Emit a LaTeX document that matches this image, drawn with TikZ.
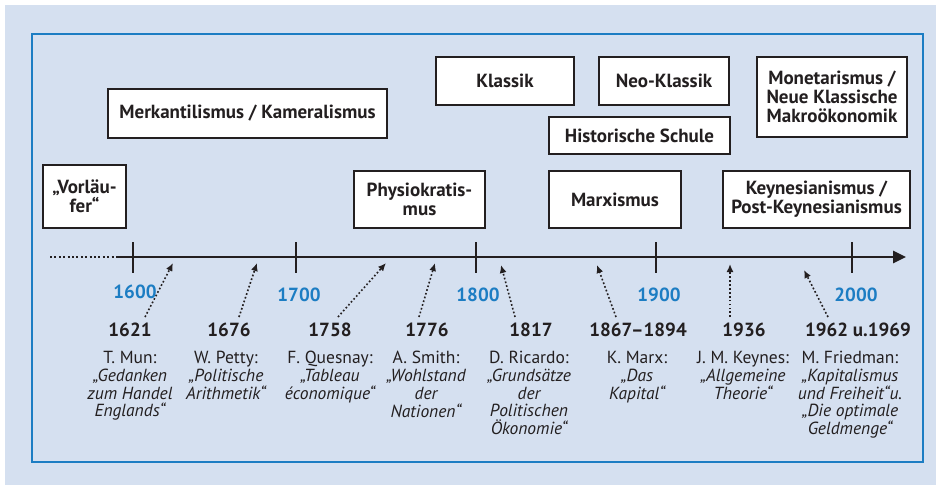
\documentclass[tikz,border=0pt]{standalone}
\usepackage{fontspec}
\setmainfont{PT Sans}
\usetikzlibrary{arrows.meta}
\definecolor{bgblue}{HTML}{D5E0F0}
\definecolor{frameblue}{HTML}{1C7DC3}
\definecolor{ink}{HTML}{231F20}
\begin{document}
\begin{tikzpicture}[x=1pt,y=-1pt,
  school/.style={draw=ink, line width=1.2pt, fill=white, align=center,
    font=\fontsize{19}{19}\selectfont\bfseries, text=ink, inner sep=0pt},
  yearlbl/.style={font=\fontsize{19}{19}\selectfont\bfseries, text=ink, inner sep=0pt},
  century/.style={font=\fontsize{19}{19}\selectfont\bfseries, text=frameblue, inner sep=0pt},
  work/.style={font=\fontsize{17.5}{17.8}\selectfont, text=ink, align=center, anchor=north, inner sep=0pt},
  refarrow/.style={draw=ink, line width=1.6pt, dash pattern=on 1.7pt off 2.2pt, -{Latex[length=8pt,width=7pt]}},
  tickline/.style={draw=ink, line width=2.2pt},
]
\useasboundingbox (0,0) rectangle (940,485);
\fill[bgblue] (5,5) rectangle (936,485);
\draw[frameblue, line width=1.2pt] (32,34) rectangle (923,462);

% schools
\node[school, minimum width=83pt, minimum height=63pt] (vor) at (84.5,196.5) {„Vorläu-\\fer“};
\node[school, minimum width=279pt, minimum height=49pt] (merk) at (247.5,113.5) {Merkantilismus / Kameralismus};
\node[school, minimum width=131pt, minimum height=57pt] (phys) at (419.5,199.5) {Physiokratis-\\mus};
\node[school, minimum width=138pt, minimum height=48pt] (klass) at (505,81) {Klassik};
\node[school, minimum width=130pt, minimum height=48pt] (neo) at (664,81) {Neo-Klassik};
\node[school, minimum width=181pt, minimum height=37pt] (hist) at (639.5,135.5) {Historische Schule};
\node[school, minimum width=150pt, minimum height=80pt] (mone) at (832,97) {Monetarismus /\\Neue Klassische\\Makroökonomik};
\node[school, minimum width=132pt, minimum height=57pt] (marx) at (615,199.5) {Marxismus};
\node[school, minimum width=187pt, minimum height=57pt] (keyn) at (816.5,199.5) {Keynesianismus /\\Post-Keynesianismus};

% timeline
\coordinate (tl0) at (50,257);
\coordinate (tl1) at (117,257);
\coordinate (tl2) at (906,257);
\draw[ink, line width=2pt, dash pattern=on 2pt off 2.4pt] (tl0) -- (tl1);
\draw[ink, line width=2.6pt, -{Triangle[length=13pt,width=12pt]}] (tl1) -- (tl2);
\foreach \x in {133,296,476,656,852} \draw[tickline] (\x,242) -- (\x,273);

% centuries
\node[century] (c16) at (135,292) {1600};
\node[century] (c17) at (299,295) {1700};
\node[century] (c18) at (478,295) {1800};
\node[century] (c19) at (659,295) {1900};
\node[century] (c20) at (856,295) {2000};

% years
\node[yearlbl] (y1) at (130,330) {1621};
\node[yearlbl] (y2) at (229,330) {1676};
\node[yearlbl] (y3) at (330,330) {1758};
\node[yearlbl] (y4) at (427,330) {1776};
\node[yearlbl] (y5) at (531,330) {1817};
\node[yearlbl] (y6) at (638,330) {1867–1894};
\node[yearlbl] (y7) at (744,330) {1936};
\node[yearlbl] (y8) at (858,330) {1962 u.1969};

% works
\node[work] (w1) at (130,351) {T. Mun:\\\itshape „Gedanken\\\itshape zum Handel\\\itshape Englands“};
\node[work] (w2) at (226,351) {W. Petty:\\\itshape „Politische\\\itshape Arithmetik“};
\node[work] (w3) at (330,351) {F. Quesnay:\\\itshape „Tableau\\\itshape économique“};
\node[work] (w4) at (426,351) {A. Smith:\\\itshape „Wohlstand\\\itshape der\\\itshape Nationen“};
\node[work] (w5) at (529,351) {D. Ricardo:\\\itshape „Grundsätze\\\itshape der\\\itshape Politischen\\\itshape Ökonomie“};
\node[work] (w6) at (637,351) {K. Marx:\\\itshape „Das\\\itshape Kapital“};
\node[work] (w7) at (743,351) {J. M. Keynes:\\\itshape „Allgemeine\\\itshape Theorie“};
\node[work] (w8) at (850,351) {M. Friedman:\\\itshape „Kapitalismus\\\itshape und Freiheit“u.\\\itshape „Die optimale\\\itshape Geldmenge“};

% arrows
\coordinate (s1) at (145,317); \coordinate (e1) at (173,263);
\coordinate (s2) at (239,317); \coordinate (e2) at (257,263);
\coordinate (s3) at (338,317); \coordinate (e3) at (386,263);
\coordinate (s4) at (419,317); \coordinate (e4) at (435,263);
\coordinate (s5) at (515,317); \coordinate (e5) at (501,265);
\coordinate (s6) at (616,317); \coordinate (e6) at (597,265);
\coordinate (s7) at (730,317); \coordinate (e7) at (730,264);
\coordinate (s8) at (828,317); \coordinate (e8) at (804,270);
\foreach \i in {1,...,8} \draw[refarrow] (s\i) -- (e\i);
\end{tikzpicture}
\end{document}
